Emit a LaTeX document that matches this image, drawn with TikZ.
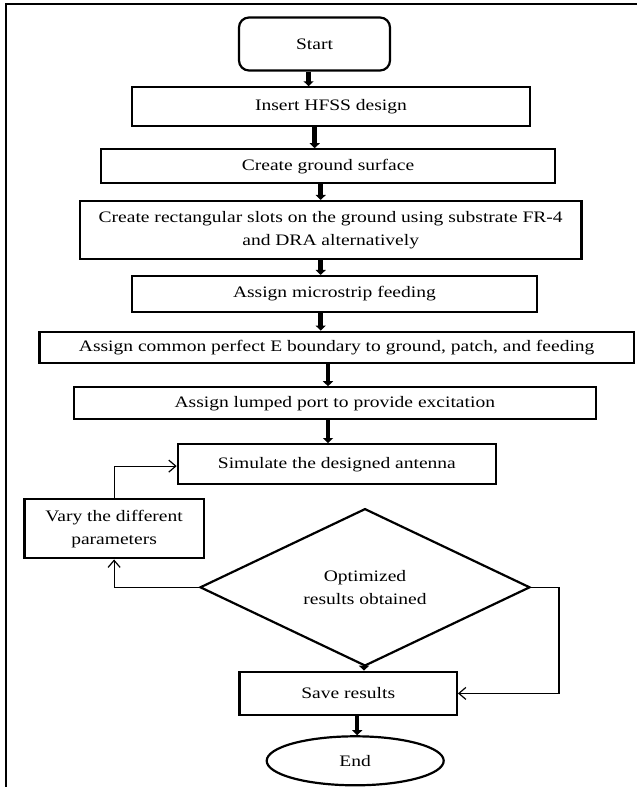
\documentclass[tikz,border=0pt]{standalone}
\usepackage{fontspec}
\setmainfont{Liberation Serif}[FakeStretch=1.22]
\usetikzlibrary{shapes.geometric,arrows.meta,calc}
\begin{document}
\begin{tikzpicture}[x=1pt,y=-1pt,font=\fontsize{16}{23}\selectfont,
  box/.style={draw, line width=2.2pt, rectangle, inner sep=0pt, align=center},
  bigarrow/.style={line width=4.5pt, -{Triangle[length=5pt,width=10pt]}},
  thinarrow/.style={line width=1.2pt, -{Straight Barb[length=7pt,width=12pt,line width=1.2pt]}}]
\useasboundingbox (0,0) rectangle (637,787);
% frame
\draw[line width=2pt] (637,4) -- (6,4) -- (6,787);
% nodes
\node[box, rounded corners=10pt, minimum width=151pt, minimum height=53pt] (start) at (314.5,44) {Start};
\node[box, minimum width=398pt, minimum height=38.7pt] (insert) at (331,106.7) {Insert HFSS design};
\node[box, minimum width=454.7pt, minimum height=34pt] (ground) at (328,166.3) {Create ground surface};
\node[box, minimum width=501.4pt, minimum height=58.3pt] (slots) at (330.7,230.2) {Create rectangular slots on the ground using substrate FR-4\\and DRA alternatively};
\node[box, minimum width=404.7pt, minimum height=35.7pt] (micro) at (334.4,293.9) {Assign microstrip feeding};
\node[box, minimum width=594.6pt, minimum height=31.6pt] (common) at (336.7,347.5) {Assign common perfect E boundary to ground, patch, and feeding};
\node[box, minimum width=521.7pt, minimum height=32pt] (lumped) at (334.8,403.3) {Assign lumped port to provide excitation};
\node[box, minimum width=318.2pt, minimum height=40pt] (sim) at (336.9,464.2) {Simulate the designed antenna};
\node[box, minimum width=179.4pt, minimum height=59.3pt] (vary) at (114.1,528.7) {Vary the different\\parameters};
\node[draw, diamond, line width=2.2pt, inner sep=0pt, minimum width=330pt, minimum height=136pt, align=center] (dec) at (365,587.3) {Optimized\\results obtained};
\node[box, minimum width=217.3pt, minimum height=43.3pt] (save) at (348.2,693.4) {Save results};
\node[draw, ellipse, line width=2.2pt, inner sep=0pt, minimum width=177pt, minimum height=49pt] (stop) at (355.2,760.8) {End};
\coordinate (rc) at (559,0);
% thick arrows
\draw[bigarrow] ([xshift=-5.9pt]start.south) -- ([xshift=-5.9pt]start.south |- insert.north);
\draw[bigarrow] ([xshift=-16.3pt]insert.south) -- ([xshift=-16.3pt]insert.south |- ground.north);
\draw[bigarrow] ([xshift=-7.3pt]ground.south) -- ([xshift=-7.3pt]ground.south |- slots.north);
\draw[bigarrow] ([xshift=-10pt]slots.south) -- ([xshift=-10pt]slots.south |- micro.north);
\draw[bigarrow] ([xshift=-13.7pt]micro.south) -- ([xshift=-13.7pt]micro.south |- common.north);
\draw[bigarrow] ([xshift=-8.7pt]common.south) -- ([xshift=-8.7pt]common.south |- lumped.north);
\draw[bigarrow] ([xshift=-6.8pt]lumped.south) -- ([xshift=-6.8pt]lumped.south |- sim.north);
\draw[bigarrow] ([xshift=-1pt]dec.south) -- ([xshift=-1pt]dec.south |- save.north);
\draw[bigarrow] ([xshift=9pt]save.south) -- ([xshift=9pt]save.south |- stop.north);
% thin connectors
\draw[thinarrow] (vary.north) |- ([yshift=-1.9pt]sim.west);
\draw[thinarrow] (dec.west) -| (vary.south);
\draw[thinarrow] (dec.east) -- (dec.east -| rc) |- (save.east);
\end{tikzpicture}
\end{document}
